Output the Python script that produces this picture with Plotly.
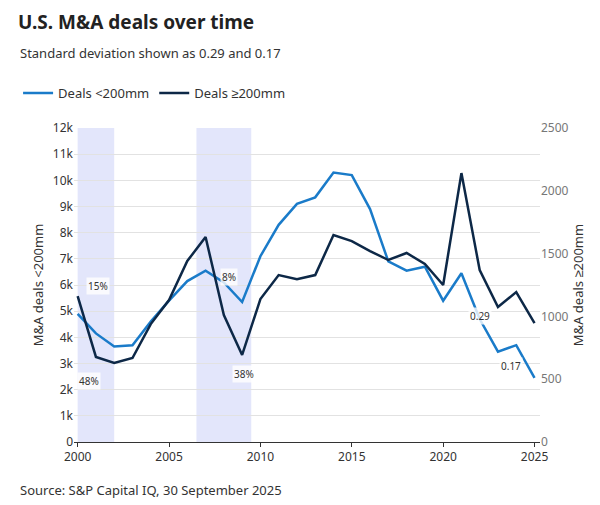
import plotly.graph_objects as go

years = list(range(2000, 2026))
small = [4.9, 4.15, 3.65, 3.7, 4.6, 5.4, 6.15, 6.55, 6.1, 5.35, 7.1, 8.3, 9.1, 9.35, 10.3, 10.2, 8.9, 6.9, 6.55, 6.7, 5.4, 6.45, 4.7, 3.45, 3.7, 2.45]
small = [v * 1000 for v in small]
large = [1162, 677, 629, 669, 939, 1130, 1441, 1632, 1011, 693, 1138, 1329, 1297, 1329, 1648, 1600, 1520, 1449, 1505, 1417, 1250, 2141, 1369, 1075, 1194, 947]
shade = [(2000, 2002), (2006.5, 2009.5)]
notes = [(2001.1, 5950, "15%"), (2000.6, 2350, "48%"), (2008.3, 6300, "8%"), (2009.1, 2600, "38%"), (2022.0, 4800, "0.29"), (2023.7, 2900, "0.17")]

fig = go.Figure()
fig.add_trace(go.Scatter(x=years, y=small, name="Deals <200mm", mode="lines",
                         line=dict(color="#1a7bc9", width=2.5)))
fig.add_trace(go.Scatter(x=years, y=large, name="Deals ≥200mm", mode="lines",
                         line=dict(color="#0d2847", width=2.5), yaxis="y2"))
for a, b in shade:
    fig.add_vrect(x0=a, x1=b, fillcolor="#e3e6fb", line_width=0, layer="below")
for x, y, t in notes:
    fig.add_annotation(x=x, y=y, text=t, showarrow=False, font=dict(size=10, color="#333"),
                       bgcolor="rgba(255,255,255,0.8)")

fig.update_layout(
    width=600, height=505, paper_bgcolor="white", plot_bgcolor="white",
    font=dict(family="Source Sans Pro, Noto Sans, sans-serif", color="#333", size=12),
    margin=dict(l=66, r=68, t=120, b=71, autoexpand=False),
    title=dict(text="<b>U.S. M&A deals over time</b>", x=10/600, xanchor="left", y=1-8/505, yanchor="top",
               font=dict(size=19, color="#222")),
    showlegend=True,
    legend=dict(orientation="h", x=-0.12, xref="paper", y=1.111, yanchor="middle", xanchor="left",
                font=dict(size=13)),
    xaxis=dict(range=[1999.8, 2025.3], tickvals=[2000, 2005, 2010, 2015, 2020, 2025],
               showgrid=False, showline=True, linecolor="#333", ticks="outside", ticklen=4,
               tickcolor="#333", automargin=False),
    yaxis=dict(range=[0, 12000], tickvals=list(range(0, 12001, 1000)),
               ticktext=["0"] + [f"{i}k" for i in range(1, 13)], gridcolor="#e2e2e2",
               title=dict(text="M&A deals <200mm", font=dict(size=13), standoff=6),
               zeroline=False, automargin=False),
    yaxis2=dict(range=[0, 2500], dtick=500, overlaying="y", side="right", showgrid=False,
                title=dict(text="M&A deals ≥200mm", font=dict(size=13), standoff=6),
                tickfont=dict(color="#777"), zeroline=False, automargin=False),
)
fig.add_annotation(text="Standard deviation shown as 0.29 and 0.17", xref="paper", yref="paper",
                   x=-0.12, y=1.239, xanchor="left", yanchor="middle", showarrow=False, font=dict(size=13))
fig.add_annotation(text="Source: S&P Capital IQ, 30 September 2025", xref="paper", yref="paper",
                   x=-0.12, y=-0.153, xanchor="left", yanchor="middle", showarrow=False, font=dict(size=13))
fig.write_html("out.html")
